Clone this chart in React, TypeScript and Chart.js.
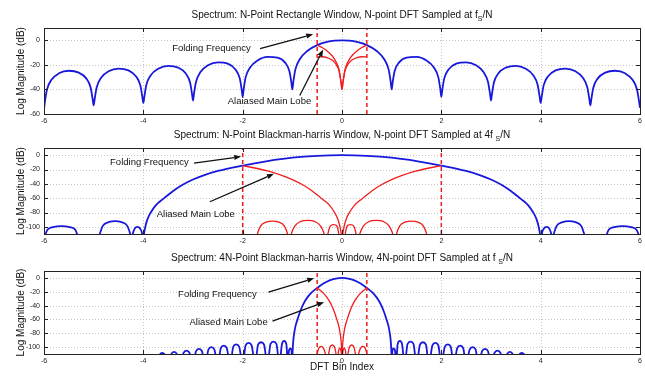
import React, { useEffect, useRef } from 'react';
import { Chart, registerables } from 'chart.js';

Chart.register(...registerables);

const FONT = '"Liberation Sans", Arial, Helvetica, sans-serif';

// ---- shared tick labels ----
const xTicks = [-6, -4, -2, 0, 2, 4, 6];
const yTicksRect = [0, -20, -40, -60];
const yTicksBH = [0, -20, -40, -60, -80, -100];

// ---- Panel 1: N-point rectangle window ----
const p1Blue: [number, number][] = [
  [-6, -56], [-5.98, -49.5], [-5.94, -40.0], [-5.85, -32.2], [-5.7, -26.9], [-5.5, -24.8], [-5.3, -26.3], [-5.15, -31.0], [-5.06, -38.6], [-5.02, -48.0],
  [-5, -53], [-4.98, -47.9], [-4.94, -38.4], [-4.85, -30.5], [-4.7, -25.2], [-4.5, -23.0], [-4.3, -24.5], [-4.15, -29.2], [-4.06, -36.7], [-4.02, -46.1],
  [-4, -51], [-3.98, -46.0], [-3.94, -36.4], [-3.85, -28.5], [-3.7, -23.2], [-3.5, -20.8], [-3.3, -22.2], [-3.15, -26.8], [-3.06, -34.2], [-3.02, -43.6],
  [-3, -49], [-2.98, -43.5], [-2.94, -33.9], [-2.85, -25.9], [-2.7, -20.4], [-2.5, -17.9], [-2.3, -19.0], [-2.15, -23.5], [-2.06, -30.8], [-2.02, -40.1],
  [-2, -46], [-1.98, -39.9], [-1.94, -30.2], [-1.85, -22.1], [-1.7, -16.4], [-1.5, -13.5], [-1.3, -14.1], [-1.15, -18.0], [-1.06, -25.0], [-1.02, -34.2],
  [-1, -40], [-0.98, -33.8], [-0.94, -23.9], [-0.85, -15.4], [-0.7, -8.7], [-0.5, -3.9], [-0.3, -1.3], [-0.15, -0.3],
  [0, 0],
  [0.15, -0.3], [0.3, -1.3], [0.5, -3.9], [0.7, -8.7], [0.85, -15.4], [0.94, -23.9], [0.98, -33.8], [1, -40],
  [1.02, -34.2], [1.06, -25.0], [1.15, -18.0], [1.3, -14.1], [1.5, -13.5], [1.7, -16.4], [1.85, -22.1], [1.94, -30.2], [1.98, -39.9], [2, -46],
  [2.02, -40.1], [2.06, -30.8], [2.15, -23.5], [2.3, -19.0], [2.5, -17.9], [2.7, -20.4], [2.85, -25.9], [2.94, -33.9], [2.98, -43.5], [3, -49],
  [3.02, -43.6], [3.06, -34.2], [3.15, -26.8], [3.3, -22.2], [3.5, -20.8], [3.7, -23.2], [3.85, -28.5], [3.94, -36.4], [3.98, -46.0], [4, -51],
  [4.02, -46.1], [4.06, -36.7], [4.15, -29.2], [4.3, -24.5], [4.5, -23.0], [4.7, -25.2], [4.85, -30.5], [4.94, -38.4], [4.98, -47.9], [5, -53],
  [5.02, -48.0], [5.06, -38.6], [5.15, -31.0], [5.3, -26.3], [5.5, -24.8], [5.7, -26.9], [5.85, -32.2], [5.94, -40.0], [5.98, -49.5], [6, -55],
];
const p1RedMain: [number, number][] = [
  [-0.5, -3.9], [-0.4, -5.9], [-0.3, -8.7], [-0.2, -12.6], [-0.15, -15.4], [-0.1, -19.2], [-0.06, -23.9], [-0.02, -33.8], [0, -40],
  [0.02, -33.8], [0.06, -23.9], [0.1, -19.2], [0.15, -15.4], [0.2, -12.6], [0.3, -8.7], [0.4, -5.9], [0.5, -3.9],
];
const p1RedSide: [number, number][] = [
  [-0.5, -13.5], [-0.4, -13.4], [-0.3, -14.1], [-0.2, -16.1], [-0.15, -18.0], [-0.1, -21.0], [-0.06, -25.0], [-0.02, -34.2], [0, -40],
  [0.02, -34.2], [0.06, -25.0], [0.1, -21.0], [0.15, -18.0], [0.2, -16.1], [0.3, -14.1], [0.4, -13.4], [0.5, -13.5],
];
const p1Folding = [-0.5, 0.5];

// ---- Panel 2: N-point Blackman-harris, sampled at 4fs/N ----
const p2Blue: [number, number][] = [
  [-6, -116], [-5.93, -104], [-5.82, -100.5], [-5.65, -99], [-5.48, -100.5], [-5.37, -104], [-5.3, -116],
  [-5.1, -130],
  [-4.9, -114], [-4.82, -99], [-4.7, -93.5], [-4.57, -92], [-4.44, -93.5], [-4.32, -99], [-4.25, -114],
  [-4.235, -120],
  [-4.22, -112], [-4.17, -102], [-4.12, -100], [-4.07, -102], [-4.02, -112],
  [-4.005, -125],
  [-3.99, -112], [-3.96, -100], [-3.92, -90], [-3.85, -80], [-3.75, -70], [-3.6, -61], [-3.4, -50], [-3.2, -41], [-3.0, -34],
  [-2.8, -28.5], [-2.5, -22], [-2, -14.5], [-1.5, -8.2], [-1, -3.5], [-0.5, -0.9], [0, 0],
  [0.5, -0.9], [1, -3.5], [1.5, -8.2], [2, -14.5], [2.5, -22], [2.8, -28.5], [3.0, -34], [3.2, -41], [3.4, -50], [3.6, -61],
  [3.75, -70], [3.85, -80], [3.92, -90], [3.96, -100], [3.99, -112],
  [4.005, -125],
  [4.02, -112], [4.07, -102], [4.12, -100], [4.17, -102], [4.22, -112],
  [4.235, -120],
  [4.25, -114], [4.32, -99], [4.44, -93.5], [4.57, -92], [4.7, -93.5], [4.82, -99], [4.9, -114],
  [5.1, -130],
  [5.3, -116], [5.37, -104], [5.48, -100.5], [5.65, -99], [5.82, -100.5], [5.93, -104], [6, -116],
];
const p2RedMain: [number, number][] = [
  [-2, -14.5], [-1.5, -22], [-1.2, -28.5], [-1, -34], [-0.8, -41], [-0.6, -50], [-0.4, -61], [-0.25, -70], [-0.15, -80],
  [-0.08, -90], [-0.04, -100], [-0.01, -112], [0, -118],
  [0.01, -112], [0.04, -100], [0.08, -90], [0.15, -80], [0.25, -70], [0.4, -61], [0.6, -50], [0.8, -41], [1, -34],
  [1.2, -28.5], [1.5, -22], [2, -14.5],
];
const p2RedSide: [number, number][] = [
  [-1.74, -125], [-1.71, -112], [-1.64, -99], [-1.53, -93.5], [-1.4, -92], [-1.27, -93.5], [-1.16, -99], [-1.09, -112],
  [-1.06, -125], [-1.03, -112], [-0.95, -99], [-0.83, -92.5], [-0.69, -91], [-0.55, -92.5], [-0.43, -99], [-0.35, -112],
  [-0.32, -125], [-0.29, -112], [-0.25, -101], [-0.21, -97.5], [-0.17, -97], [-0.13, -97.5], [-0.09, -101], [-0.06, -112],
  [0, -130],
  [0.06, -112], [0.09, -101], [0.13, -97.5], [0.17, -97], [0.21, -97.5], [0.25, -101], [0.29, -112], [0.32, -125],
  [0.35, -112], [0.43, -99], [0.55, -92.5], [0.69, -91], [0.83, -92.5], [0.95, -99], [1.03, -112], [1.06, -125],
  [1.09, -112], [1.16, -99], [1.27, -93.5], [1.4, -92], [1.53, -93.5], [1.64, -99], [1.71, -112], [1.74, -125],
];
const p2Folding = [-2, 2];

// ---- Panel 3: 4N-point Blackman-harris, sampled at fs/N ----
const p3Blue: [number, number][] = [
  [-3.75, -125],
  [-3.68, -112], [-3.62, -108.5], [-3.56, -112], [-3.5, -125],
  [-3.44, -110.5], [-3.38, -107], [-3.32, -110.5], [-3.25, -125],
  [-3.19, -108.5], [-3.13, -105], [-3.07, -108.5], [-3.0, -125],
  [-2.94, -106], [-2.88, -102.5], [-2.82, -106], [-2.75, -125],
  [-2.69, -103.5], [-2.63, -100], [-2.57, -103.5], [-2.5, -125],
  [-2.44, -101.5], [-2.38, -98], [-2.32, -101.5], [-2.25, -125],
  [-2.19, -99.5], [-2.13, -96], [-2.07, -99.5], [-2.0, -125],
  [-1.94, -97.5], [-1.88, -94], [-1.82, -97.5], [-1.75, -125],
  [-1.69, -96.5], [-1.63, -93], [-1.57, -96.5], [-1.5, -125],
  [-1.44, -95.5], [-1.38, -92], [-1.32, -95.5], [-1.26, -125],
  [-1.21, -96], [-1.165, -91], [-1.12, -96], [-1.09, -125],
  [-1.07, -106], [-1.04, -102], [-1.015, -106], [-1.005, -125],
  [-0.998, -112], [-0.99, -100], [-0.98, -90], [-0.9625, -80], [-0.9375, -70], [-0.9, -61], [-0.85, -50], [-0.8, -41],
  [-0.75, -34], [-0.7, -28.5], [-0.625, -22], [-0.5, -14.5], [-0.375, -8.2], [-0.25, -3.5], [-0.125, -0.9], [0, 0],
  [0.125, -0.9], [0.25, -3.5], [0.375, -8.2], [0.5, -14.5], [0.625, -22], [0.7, -28.5], [0.75, -34], [0.8, -41],
  [0.85, -50], [0.9, -61], [0.9375, -70], [0.9625, -80], [0.98, -90], [0.99, -100], [0.998, -112],
  [1.005, -125], [1.015, -106], [1.04, -102], [1.07, -106],
  [1.09, -125], [1.12, -96], [1.165, -91], [1.21, -96],
  [1.26, -125], [1.32, -95.5], [1.38, -92], [1.44, -95.5],
  [1.5, -125], [1.57, -96.5], [1.63, -93], [1.69, -96.5],
  [1.75, -125], [1.82, -97.5], [1.88, -94], [1.94, -97.5],
  [2.0, -125], [2.07, -99.5], [2.13, -96], [2.19, -99.5],
  [2.25, -125], [2.32, -101.5], [2.38, -98], [2.44, -101.5],
  [2.5, -125], [2.57, -103.5], [2.63, -100], [2.69, -103.5],
  [2.75, -125], [2.82, -106], [2.88, -102.5], [2.94, -106],
  [3.0, -125], [3.07, -108.5], [3.13, -105], [3.19, -108.5],
  [3.25, -125], [3.32, -110.5], [3.38, -107], [3.44, -110.5],
  [3.5, -125], [3.56, -112], [3.62, -108.5], [3.68, -112],
  [3.75, -125],
];
const p3RedMain: [number, number][] = [
  [-0.5, -14.5], [-0.375, -22], [-0.3, -28.5], [-0.25, -34], [-0.2, -41], [-0.15, -50], [-0.1, -61], [-0.0625, -70],
  [-0.0375, -80], [-0.02, -90], [-0.01, -100], [-0.0025, -112], [0, -118],
  [0.0025, -112], [0.01, -100], [0.02, -90], [0.0375, -80], [0.0625, -70], [0.1, -61], [0.15, -50], [0.2, -41],
  [0.25, -34], [0.3, -28.5], [0.375, -22], [0.5, -14.5],
];
const p3RedSide: [number, number][] = [
  [-0.55, -125], [-0.5, -110], [-0.47, -102], [-0.42, -99], [-0.37, -102], [-0.33, -112], [-0.31, -125],
  [-0.27, -110], [-0.24, -100], [-0.195, -97], [-0.15, -100], [-0.12, -110], [-0.09, -125],
  [-0.075, -108], [-0.06, -103], [-0.045, -101], [-0.03, -103], [-0.015, -108], [0, -125],
  [0.015, -108], [0.03, -103], [0.045, -101], [0.06, -103], [0.075, -108], [0.09, -125],
  [0.12, -110], [0.15, -100], [0.195, -97], [0.24, -100], [0.27, -110], [0.31, -125],
  [0.33, -112], [0.37, -102], [0.42, -99], [0.47, -102], [0.5, -110], [0.55, -125],
];
const p3Folding = [-0.5, 0.5];

// ---- titles ----
const p1Title = ['Spectrum: N-Point Rectangle Window, N-point DFT Sampled at f', 'S', '/N'];
const p2Title = ['Spectrum: N-Point Blackman-harris Window, N-point DFT Sampled at 4f ', 'S', '/N'];
const p3Title = ['Spectrum: 4N-Point Blackman-harris Window, 4N-point DFT Sampled at f ', 'S', '/N'];
const yTitle = 'Log Magnitude (dB)';
const xTitle = 'DFT Bin Index';

// ---- annotations (data coordinates) ----
const p1Notes = [
  { text: 'Folding Frequency', x: -3.42, y: -6.2, ax0: -1.65, ay0: -6.8, ax1: -0.58, ay1: 4.9 },
  { text: 'Alaiased Main Lobe', x: -2.3, y: -49.5, ax0: -0.85, ay0: -45, ax1: -0.38, ay1: -7.5 },
];
const p2Notes = [
  { text: 'Folding Frequency', x: -4.67, y: -10, ax0: -2.98, ay0: -11, ax1: -2.03, ay1: -2 },
  { text: 'Aliased Main Lobe', x: -3.73, y: -83, ax0: -2.66, ay0: -65, ax1: -1.37, ay1: -26 },
];
const p3Notes = [
  { text: 'Folding Frequency', x: -3.3, y: -23.3, ax0: -1.48, ay0: -20.5, ax1: -0.56, ay1: -0.5 },
  { text: 'Aliased Main Lobe', x: -3.07, y: -64.8, ax0: -1.4, ay0: -62.4, ax1: -0.36, ay1: -35 },
];

const BLUE = 'rgb(24,24,220)';
const RED = 'rgb(240,28,28)';

type Panel = {
  top: number; h: number; padTop: number; xh: number;
  ymin: number; ymax: number; yTicks: number[];
  blue: [number, number][]; redMain: [number, number][]; redSide: [number, number][];
  folding: number[]; title: string[]; notes: any[]; showXTitle: boolean;
};

const panels: Panel[] = [
  { top: 0, h: 127, padTop: 28, xh: 13, ymin: -60, ymax: 10, yTicks: yTicksRect, blue: p1Blue, redMain: p1RedMain, redSide: p1RedSide, folding: p1Folding, title: p1Title, notes: p1Notes, showXTitle: false },
  { top: 127, h: 123, padTop: 21, xh: 16, ymin: -110, ymax: 10, yTicks: yTicksBH, blue: p2Blue, redMain: p2RedMain, redSide: p2RedSide, folding: p2Folding, title: p2Title, notes: p2Notes, showXTitle: false },
  { top: 250, h: 127, padTop: 21, xh: 23, ymin: -110, ymax: 10, yTicks: yTicksBH, blue: p3Blue, redMain: p3RedMain, redSide: p3RedSide, folding: p3Folding, title: p3Title, notes: p3Notes, showXTitle: true },
];

function toXY(pts: [number, number][]) {
  return pts.map(([x, y]) => ({ x, y }));
}

function arrow(ctx: CanvasRenderingContext2D, x0: number, y0: number, x1: number, y1: number) {
  const ang = Math.atan2(y1 - y0, x1 - x0);
  const L = 7, W = 2.6;
  const c = Math.cos(ang), s = Math.sin(ang);
  const bx = x1 - L * c, by = y1 - L * s;
  ctx.beginPath();
  ctx.moveTo(x0, y0);
  ctx.lineTo(bx, by);
  ctx.stroke();
  ctx.beginPath();
  ctx.moveTo(x1, y1);
  ctx.lineTo(bx + W * s, by - W * c);
  ctx.lineTo(bx - W * s, by + W * c);
  ctx.closePath();
  ctx.fill();
}

function makePlugin(p: Panel) {
  return {
    id: 'deco',
    beforeDatasetsDraw(chart: any) {
      const { ctx, chartArea: a, scales } = chart;
      const xs = scales.x, ys = scales.y;
      ctx.save();
      ctx.strokeStyle = '#b8b8b8';
      ctx.lineWidth = 0.8;
      ctx.setLineDash([1, 2]);
      ctx.beginPath();
      for (const v of xTicks) {
        if (v <= xs.min || v >= xs.max) continue;
        const px = Math.round(xs.getPixelForValue(v)) + 0.5;
        ctx.moveTo(px, a.top); ctx.lineTo(px, a.bottom);
      }
      for (const v of p.yTicks) {
        if (v <= ys.min || v >= ys.max) continue;
        const py = Math.round(ys.getPixelForValue(v)) + 0.5;
        ctx.moveTo(a.left, py); ctx.lineTo(a.right, py);
      }
      ctx.stroke();
      ctx.restore();
    },
    afterDatasetsDraw(chart: any) {
      const { ctx, chartArea: a, scales } = chart;
      const xs = scales.x, ys = scales.y;
      ctx.save();
      // frame
      ctx.strokeStyle = '#222';
      ctx.lineWidth = 1;
      ctx.setLineDash([]);
      ctx.strokeRect(Math.round(a.left) + 0.5, Math.round(a.top) + 0.5, Math.round(a.right - a.left), Math.round(a.bottom - a.top));
      // inward tick marks
      ctx.beginPath();
      const tl = 4;
      for (const v of xTicks) {
        const px = Math.round(xs.getPixelForValue(v)) + 0.5;
        ctx.moveTo(px, a.bottom); ctx.lineTo(px, a.bottom - tl);
        ctx.moveTo(px, a.top); ctx.lineTo(px, a.top + tl);
      }
      for (const v of p.yTicks) {
        const py = Math.round(ys.getPixelForValue(v)) + 0.5;
        ctx.moveTo(a.left, py); ctx.lineTo(a.left + tl, py);
        ctx.moveTo(a.right, py); ctx.lineTo(a.right - tl, py);
      }
      ctx.stroke();

      // annotations
      ctx.fillStyle = '#111';
      ctx.strokeStyle = '#111';
      ctx.lineWidth = 1.3;
      ctx.font = `9.5px ${FONT}`;
      ctx.textAlign = 'left';
      ctx.textBaseline = 'middle';
      for (const n of p.notes) {
        ctx.fillText(n.text, xs.getPixelForValue(n.x), ys.getPixelForValue(n.y));
        arrow(ctx, xs.getPixelForValue(n.ax0), ys.getPixelForValue(n.ay0), xs.getPixelForValue(n.ax1), ys.getPixelForValue(n.ay1));
      }

      // title with subscript
      const mainF = `10px ${FONT}`;
      const subF = `7px ${FONT}`;
      ctx.font = mainF;
      const w0 = ctx.measureText(p.title[0]).width;
      const w2 = ctx.measureText(p.title[2]).width;
      ctx.font = subF;
      const w1 = ctx.measureText(p.title[1]).width;
      const total = w0 + w1 + w2;
      const cx = (a.left + a.right) / 2;
      const ty = a.top - 13;
      let x = cx - total / 2;
      ctx.textAlign = 'left';
      ctx.font = mainF;
      ctx.fillText(p.title[0], x, ty);
      x += w0;
      ctx.font = subF;
      ctx.fillText(p.title[1], x, ty + 4);
      x += w1;
      ctx.font = mainF;
      ctx.fillText(p.title[2], x, ty);

      // y axis title
      ctx.save();
      ctx.translate(21, (a.top + a.bottom) / 2);
      ctx.rotate(-Math.PI / 2);
      ctx.textAlign = 'center';
      ctx.font = `10px ${FONT}`;
      ctx.fillText(yTitle, 0, 0);
      ctx.restore();

      if (p.showXTitle) {
        ctx.textAlign = 'center';
        ctx.font = `10px ${FONT}`;
        ctx.fillText(xTitle, cx, a.bottom + 13);
      }
      ctx.restore();
    },
  };
}

function PanelChart({ p }: { p: Panel }) {
  const ref = useRef<HTMLCanvasElement>(null);
  useEffect(() => {
    const canvas = ref.current!;
    const line = (pts: [number, number][], color: string, width: number, dash: number[] = []) => ({
      data: toXY(pts),
      borderColor: color,
      borderWidth: width,
      borderDash: dash,
      pointRadius: 0,
      fill: false,
      cubicInterpolationMode: 'monotone' as const,
    });
    const foldSets = p.folding.map((fx) => ({
      data: [{ x: fx, y: p.ymin }, { x: fx, y: p.ymax }],
      borderColor: RED,
      borderWidth: 1.5,
      borderDash: [4, 3],
      pointRadius: 0,
      fill: false,
    }));
    const chart = new Chart(canvas, {
      type: 'line',
      data: {
        datasets: [
          ...foldSets,
          line(p.redMain, RED, 1.3),
          line(p.redSide, RED, 1.3),
          line(p.blue, BLUE, 1.8),
        ] as any,
      },
      options: {
        animation: false,
        responsive: false,
        events: [],
        layout: { padding: { top: p.padTop, right: 5, bottom: 0, left: 0 } },
        plugins: { legend: { display: false }, tooltip: { enabled: false }, title: { display: false } },
        scales: {
          x: {
            type: 'linear',
            min: -6,
            max: 6,
            grid: { display: false, drawTicks: false },
            border: { display: false },
            ticks: { font: { family: FONT, size: 7 }, color: '#222', padding: 3, autoSkip: false, maxRotation: 0 },
            afterBuildTicks: (s: any) => { s.ticks = xTicks.map((v) => ({ value: v })); },
            afterFit: (s: any) => { s.height = p.xh; },
          },
          y: {
            type: 'linear',
            min: p.ymin,
            max: p.ymax,
            grid: { display: false, drawTicks: false },
            border: { display: false },
            ticks: { font: { family: FONT, size: 7 }, color: '#222', padding: 4, autoSkip: false },
            afterBuildTicks: (s: any) => { s.ticks = p.yTicks.map((v) => ({ value: v })); },
            afterFit: (s: any) => { s.width = 44; },
          },
        },
      } as any,
      plugins: [makePlugin(p)],
    });
    return () => chart.destroy();
  }, [p]);
  return (
    <canvas
      ref={ref}
      width={645}
      height={p.h}
      style={{ position: 'absolute', left: 0, top: p.top, width: 645, height: p.h }}
    />
  );
}

export default function App() {
  return (
    <div style={{ position: 'absolute', left: 0, top: 0, width: 645, height: 377, background: '#fff', overflow: 'hidden' }}>
      {panels.map((p, i) => (
        <PanelChart key={i} p={p} />
      ))}
    </div>
  );
}
